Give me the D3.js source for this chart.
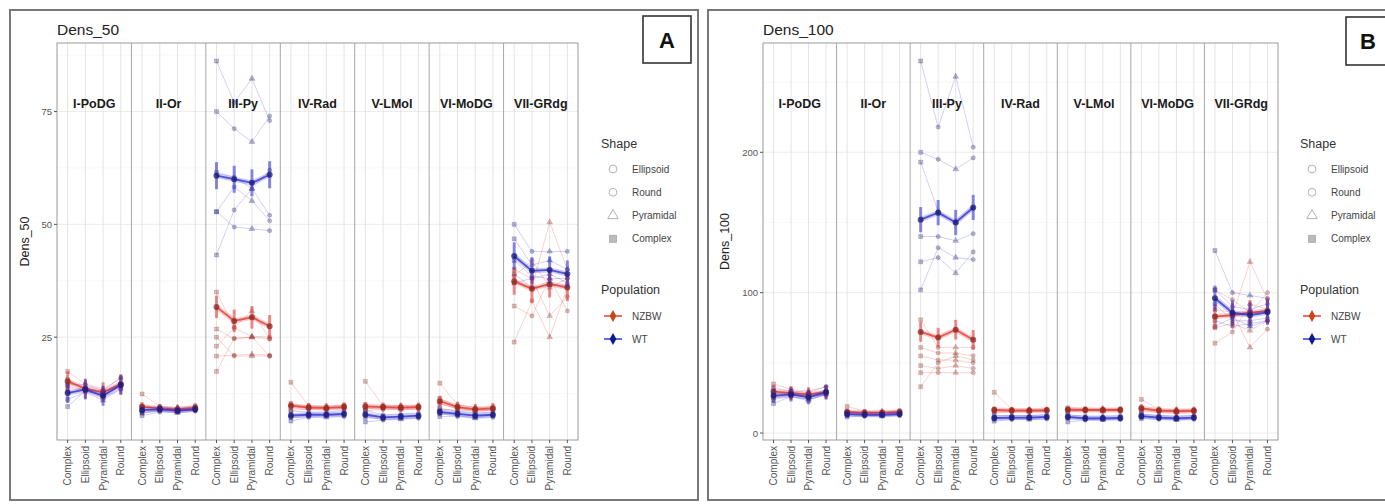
<!DOCTYPE html>
<html><head><meta charset="utf-8">
<script src="https://cdn.jsdelivr.net/npm/d3@7"></script>
<style>
body{margin:0;background:#fff;}
svg{display:block;font-family:"Liberation Sans",Arial,sans-serif;}
</style>
</head><body>
<svg id="chart" width="1385" height="504"></svg>
<script>
// ---- categories ----
const clusters = ["I-PoDG","II-Or","III-Py","IV-Rad","V-LMol","VI-MoDG","VII-GRdg"];
const shapes = ["Complex","Ellipsoid","Pyramidal","Round"];
const legendShapes = ["Ellipsoid","Round","Pyramidal","Complex"];
const populations = ["NZBW","WT"];
const yTicksA = [25, 50, 75];
const yTicksB = [0, 100, 200];

// ---- Dens_50: group means (cluster x shape) ----
const meanA_NZBW = [
  [15.2,13.6,12.8,14.6],[9.6,9.2,9.0,9.3],[31.7,28.6,29.4,27.4],[9.8,9.4,9.3,9.5],
  [9.6,9.5,9.4,9.5],[10.8,9.5,9.0,9.2],[37.4,35.7,36.8,36.0]];
const meanA_WT = [
  [12.6,13.4,12.0,14.4],[8.8,9.0,8.7,9.0],[60.8,60.0,59.2,61.0],[7.6,7.8,7.8,8.0],
  [7.8,7.2,7.4,7.6],[8.4,8.0,7.6,7.8],[43.0,39.7,39.9,39.0]];
const errA_NZBW = [2.2,1.0,2.5,1.0,1.0,1.2,3.0];
const errA_WT = [2.2,0.8,3.0,0.8,0.8,0.8,3.0];
// ---- Dens_50: individual profiles ----
const indA_NZBW = [
  [[17.4,14.6,13.6,15.8],[15.6,13.4,12.6,14.4],[14.2,13.0,12.2,14.0],[13.6,13.4,12.8,14.2]],
  [[12.4,9.6,9.4,9.8],[9.4,9.2,9.0,9.4],[8.8,9.0,8.8,9.0],[8.2,8.8,8.6,9.0]],
  [[35.0,27.2,30.8,24.6],[26.8,24.6,25.0,24.6],[25.0,20.8,20.8,20.8],[23.0,27.0,25.2,25.0],[20.8,21.0,21.2,21.0],[17.4,24.8,25.0,20.8]],
  [[15.0,9.8,9.6,10.0],[10.2,9.6,9.4,9.8],[9.6,9.2,9.2,9.4],[8.8,9.0,9.0,9.2]],
  [[15.2,9.8,9.8,9.8],[10.0,9.6,9.4,9.6],[9.2,9.2,9.2,9.2],[8.6,9.0,9.0,9.0]],
  [[14.8,10.0,9.4,9.6],[11.4,9.6,9.2,9.4],[10.2,9.2,8.8,9.0],[9.0,8.8,8.6,8.8]],
  [[37.0,36.0,50.5,40.0],[31.9,29.7,38.0,30.8],[23.9,33.0,25.0,36.0],[40.0,38.0,29.7,34.0],[38.5,42.0,36.0,38.0]]];
const indA_WT = [
  [[14.6,14.4,13.2,16.0],[12.8,13.2,12.0,14.6],[11.2,12.8,11.0,13.6],[9.6,13.2,11.6,13.4]],
  [[9.4,9.6,9.2,9.6],[8.8,9.0,8.6,9.0],[8.2,8.6,8.4,8.8],[7.6,8.4,8.2,8.6]],
  [[86.2,77.0,82.3,73.0],[75.0,71.2,68.3,74.0],[61.5,60.5,57.9,62.0],[52.8,58.3,55.2,50.8],[52.8,49.4,49.0,48.6],[43.2,53.2,57.9,52.0]],
  [[8.6,8.4,8.4,8.8],[7.8,8.0,7.8,8.0],[7.2,7.4,7.6,7.6],[6.4,7.2,7.2,7.4]],
  [[8.8,7.8,8.0,8.2],[8.0,7.2,7.4,7.6],[7.2,6.8,7.0,7.2],[6.2,6.6,6.8,7.0]],
  [[9.2,8.6,8.2,8.4],[8.6,8.0,7.6,7.8],[8.0,7.6,7.2,7.6],[7.4,7.4,7.0,7.2]],
  [[50.0,44.0,44.0,44.0],[46.8,41.0,42.0,40.0],[42.0,38.5,38.0,38.0],[39.0,36.0,36.5,36.5],[37.0,38.0,39.0,37.0]]];

// ---- Dens_100: group means ----
const meanB_NZBW = [
  [29.5,28.5,27.5,29.0],[15.0,14.5,14.5,15.0],[72.0,68.0,73.6,66.4],[16.4,16.0,16.0,16.2],
  [16.6,16.4,16.4,16.4],[17.6,16.0,15.6,15.8],[83.0,84.0,85.7,87.0]];
const meanB_WT = [
  [26.5,27.5,25.5,29.0],[13.5,13.0,13.0,13.5],[152.0,157.0,150.0,160.7],[10.7,11.0,11.0,11.5],
  [11.5,10.5,10.5,10.8],[12.0,11.0,10.5,11.0],[96.0,85.7,84.0,86.0]];
const errB_NZBW = [5,2.5,7,2.5,2.5,3,9];
const errB_WT = [5,2.5,9,2.5,2.5,2.5,9];
// ---- Dens_100: individual profiles ----
const indB_NZBW = [
  [[35,31,30,33],[30,29,28,30],[27,27,26,28],[25,27,26,27]],
  [[19,15.5,15.5,16],[15,14.8,14.6,15.2],[14,14,14,14.6],[13,13.8,13.8,14]],
  [[80.7,61,61,61],[61,57,57,55],[55,52,52,50],[48,46,48,46],[43,43,43,43],[33,50,55,52]],
  [[29,17,16.8,17],[17,16.4,16.2,16.6],[15.6,15.8,15.6,15.8],[14.6,15.2,15.2,15.4]],
  [[18,17.4,17.4,17.4],[17,16.8,16.6,16.8],[16.2,16.2,16.2,16.2],[15.2,15.6,15.6,15.6]],
  [[24,17,16.6,16.8],[18,16.4,16,16.2],[16.4,15.6,15.2,15.4],[15,15,14.6,15]],
  [[83,84,122,95],[102,95,85.7,100],[75,78,73,80],[64,72,92,88],[88,86,61,74]]];
const indB_WT = [
  [[32,30,29,33],[28,28,26,30],[24,26,23,28],[21,26,24,27]],
  [[15,14,14,14.5],[13.6,13.2,13,13.6],[12.6,12.5,12.4,13],[11.5,12,12,12.5]],
  [[265,218,254,203.6],[200,195,188,196],[193,158,150,160],[140,140,137,142],[122,125,114,129],[102,132,125,123.6]],
  [[12.5,12.5,12.4,13],[11,11.2,11.2,11.6],[10,10.4,10.4,10.8],[8.5,9.6,9.6,10]],
  [[13,12,12,12.4],[11.8,10.8,10.8,11.2],[10.8,9.8,9.8,10.2],[7.9,9.2,9.4,9.8]],
  [[13.6,12.4,12,12.4],[12.4,11.4,10.8,11.2],[11.4,10.4,10,10.6],[10.2,9.8,9.4,9.8]],
  [[130,100,98,96],[102,90,88,92],[92,80,80,82],[80,76,78,80],[76,82,76,80]]];

// ---- styling ----
const popColor = {NZBW: "#e0302a", WT: "#2a2ad0"};
const popDark = {NZBW: "#8a2a20", WT: "#1c1c70"};
const legendPt = {NZBW: "#c8461a", WT: "#0b1a8c"};
const shapeSym = {Complex: d3.symbolSquare, Ellipsoid: d3.symbolCircle, Pyramidal: d3.symbolTriangle, Round: d3.symbolCircle};

const svg = d3.select("#chart");
svg.append("rect").attr("width",1385).attr("height",504).attr("fill","#fff");

function drawPanel(p) {
  const g = svg.append("g");
  // outer frame
  g.append("rect").attr("x",p.frame[0]).attr("y",p.frame[1]).attr("width",p.frame[2]).attr("height",p.frame[3])
    .attr("fill","none").attr("stroke","#6a6a6a").attr("stroke-width",1.8);
  // panel letter
  g.append("rect").attr("x",p.letterBox[0]).attr("y",p.letterBox[1]).attr("width",p.letterBox[2]).attr("height",p.letterBox[3])
    .attr("fill","#fff").attr("stroke","#333").attr("stroke-width",1.6);
  g.append("text").attr("x",p.letterBox[0]+p.letterBox[2]/2-(p.letterShift||0)).attr("y",p.letterBox[1]+p.letterBox[3]/2+8)
    .attr("text-anchor","middle").attr("font-size",22).attr("font-weight","bold").attr("fill","#111").text(p.letter);

  const allVals = [];
  populations.forEach(pop => {
    p.ind[pop].forEach(c => c.forEach(r => allVals.push(...r)));
    p.mean[pop].forEach(r => allVals.push(...r));
  });
  const [lo, hi] = d3.extent(allVals);
  const pad = (hi - lo) * 0.05;
  const y = d3.scaleLinear().domain([lo - pad, hi + pad]).range([p.bottom, p.top]);
  const fx = d3.scaleBand().domain(clusters).range([p.left, p.right]);
  const ix = d3.scalePoint().domain(shapes).range([0, fx.bandwidth()]).padding(0.6);
  const X = (c, s) => fx(c) + ix(s);

  // grid
  const grid = g.append("g");
  const step = p.yTicks[1] - p.yTicks[0];
  const minor = p.yTicks.map(v => v - step/2).concat([p.yTicks[p.yTicks.length-1] + step/2]);
  minor.filter(v => y(v) > p.top && y(v) < p.bottom).forEach(v => {
    grid.append("line").attr("x1",p.left).attr("x2",p.right).attr("y1",y(v)).attr("y2",y(v))
      .attr("stroke","#f4f4f4").attr("stroke-width",0.6);
  });
  p.yTicks.forEach(v => {
    grid.append("line").attr("x1",p.left).attr("x2",p.right).attr("y1",y(v)).attr("y2",y(v))
      .attr("stroke","#ececec").attr("stroke-width",1);
  });
  clusters.forEach(c => shapes.forEach(s => {
    grid.append("line").attr("x1",X(c,s)).attr("x2",X(c,s)).attr("y1",p.top).attr("y2",p.bottom)
      .attr("stroke","#e4e4e4").attr("stroke-width",1);
  }));
  clusters.slice(1).forEach(c => {
    grid.append("line").attr("x1",fx(c)).attr("x2",fx(c)).attr("y1",p.top).attr("y2",p.bottom)
      .attr("stroke","#a8a8a8").attr("stroke-width",1);
  });
  g.append("rect").attr("x",p.left).attr("y",p.top).attr("width",p.right-p.left).attr("height",p.bottom-p.top)
    .attr("fill","none").attr("stroke","#9a9a9a").attr("stroke-width",1);

  // strip labels
  clusters.forEach(c => {
    g.append("text").attr("x",fx(c)+fx.bandwidth()/2).attr("y",p.stripY).attr("text-anchor","middle")
      .attr("font-size",12.5).attr("font-weight","bold").attr("fill","#1a1a1a").text(c);
  });

  // data
  const line = d3.line().x(d => d[0]).y(d => d[1]);
  const data = g.append("g");
  populations.forEach(pop => {
    clusters.forEach((c, ci) => {
      p.ind[pop][ci].forEach(row => {
        const pts = shapes.map((s, si) => [X(c,s), y(row[si])]);
        data.append("path").attr("d", line(pts)).attr("fill","none")
          .attr("stroke", popColor[pop]).attr("stroke-opacity",0.28).attr("stroke-width",0.8);
        shapes.forEach((s, si) => {
          data.append("path").attr("d", d3.symbol(shapeSym[s], s === "Complex" ? 16 : 14)())
            .attr("transform",`translate(${X(c,s)},${y(row[si])})`)
            .attr("fill", popDark[pop]).attr("fill-opacity",0.3)
            .attr("stroke", popDark[pop]).attr("stroke-opacity",0.35).attr("stroke-width",0.6);
        });
      });
    });
  });
  populations.forEach(pop => {
    clusters.forEach((c, ci) => {
      const m = p.mean[pop][ci];
      const e = p.err[pop][ci];
      shapes.forEach((s, si) => {
        data.append("line").attr("x1",X(c,s)).attr("x2",X(c,s)).attr("y1",y(m[si]-e)).attr("y2",y(m[si]+e))
          .attr("stroke", popColor[pop]).attr("stroke-opacity",0.55).attr("stroke-width",3);
      });
      const pts = shapes.map((s, si) => [X(c,s), y(m[si])]);
      data.append("path").attr("d", line(pts)).attr("fill","none")
        .attr("stroke", popColor[pop]).attr("stroke-opacity",0.25).attr("stroke-width",5);
      data.append("path").attr("d", line(pts)).attr("fill","none")
        .attr("stroke", popColor[pop]).attr("stroke-opacity",0.75).attr("stroke-width",1.8);
      pts.forEach(pt => {
        data.append("circle").attr("cx",pt[0]).attr("cy",pt[1]).attr("r",3)
          .attr("fill", popDark[pop]).attr("fill-opacity",0.75);
      });
    });
  });

  // axes
  const ax = g.append("g");
  p.yTicks.forEach(v => {
    ax.append("line").attr("x1",p.left-3).attr("x2",p.left).attr("y1",y(v)).attr("y2",y(v)).attr("stroke","#555");
    ax.append("text").attr("x",p.left-5).attr("y",y(v)+3.5).attr("text-anchor","end")
      .attr("font-size",9.5).attr("fill","#555").text(v);
  });
  clusters.forEach(c => shapes.forEach(s => {
    ax.append("line").attr("x1",X(c,s)).attr("x2",X(c,s)).attr("y1",p.bottom).attr("y2",p.bottom+3).attr("stroke","#555");
    ax.append("text").attr("transform",`translate(${X(c,s)+3.5},${p.bottom+6}) rotate(-90)`)
      .attr("text-anchor","end").attr("font-size",10).attr("fill","#555").text(s);
  }));
  g.append("text").attr("transform",`translate(${p.yTitleX},${(p.top+p.bottom)/2}) rotate(-90)`)
    .attr("text-anchor","middle").attr("font-size",12.5).attr("fill","#222").text(p.name);
  g.append("text").attr("x",p.left).attr("y",p.top-8).attr("font-size",15.5).attr("fill","#222").text(p.name);

  // legends
  const lg = g.append("g");
  lg.append("text").attr("x",p.legX).attr("y",148).attr("font-size",12.5).attr("fill","#333").text("Shape");
  legendShapes.forEach((s, i) => {
    const yy = 169 + i*23.3;
    lg.append("path").attr("d", d3.symbol(shapeSym[s], 48)()).attr("transform",`translate(${p.legX+12},${yy})`)
      .attr("fill", s === "Complex" ? "#bbb" : "none").attr("stroke","#aaa").attr("stroke-width",0.9);
    lg.append("text").attr("x",p.legX+31).attr("y",yy+3.5).attr("font-size",10).attr("fill","#444").text(s);
  });
  lg.append("text").attr("x",p.legX).attr("y",294).attr("font-size",12.5).attr("fill","#333").text("Population");
  populations.forEach((pop, i) => {
    const yy = 316 + i*23;
    lg.append("line").attr("x1",p.legX+3).attr("x2",p.legX+21).attr("y1",yy).attr("y2",yy)
      .attr("stroke", popColor[pop]).attr("stroke-width",2).attr("stroke-opacity",0.7);
    lg.append("path").attr("d", d3.symbol(d3.symbolDiamond, 40)()).attr("transform",`translate(${p.legX+12},${yy})`)
      .attr("fill", legendPt[pop]);
    lg.append("text").attr("x",p.legX+31).attr("y",yy+3.5).attr("font-size",10).attr("fill","#444").text(pop);
  });
}

drawPanel({
  name: "Dens_50", letter: "A", yTicks: yTicksA,
  mean: {NZBW: meanA_NZBW, WT: meanA_WT}, ind: {NZBW: indA_NZBW, WT: indA_WT}, err: {NZBW: errA_NZBW, WT: errA_WT},
  frame: [10, 10, 688, 490], letterBox: [643, 16, 48, 47],
  left: 57, right: 578, top: 43, bottom: 440, stripY: 108, yTitleX: 29, legX: 601
});
drawPanel({
  name: "Dens_100", letter: "B", yTicks: yTicksB,
  mean: {NZBW: meanB_NZBW, WT: meanB_WT}, ind: {NZBW: indB_NZBW, WT: indB_WT}, err: {NZBW: errB_NZBW, WT: errB_WT},
  frame: [708, 10, 700, 490], letterBox: [1346, 17, 48, 48], letterShift: 2,
  left: 763, right: 1278, top: 43, bottom: 440, stripY: 108, yTitleX: 729, legX: 1300
});
</script>
</body></html>
